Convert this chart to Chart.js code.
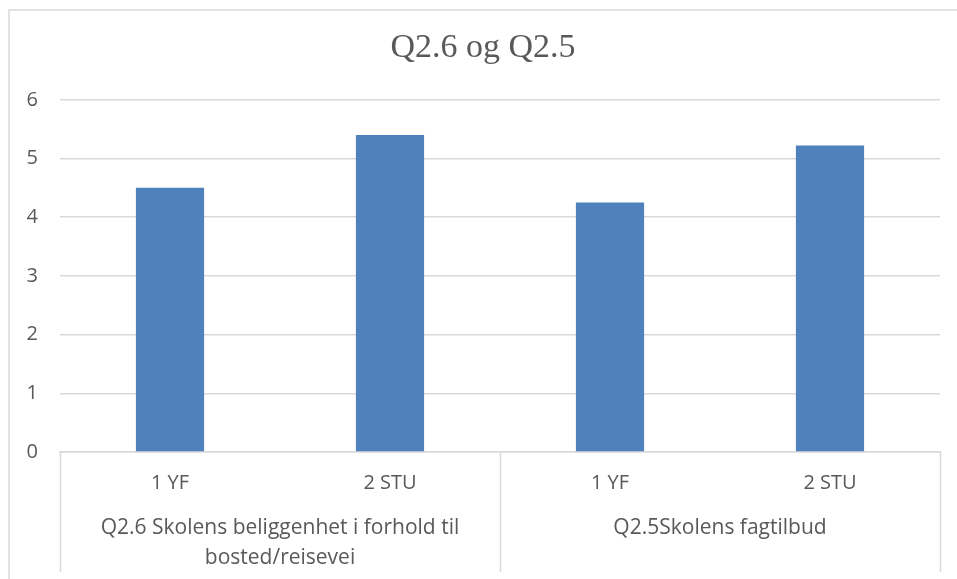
<!DOCTYPE html>
<html>
<head>
<meta charset="utf-8">
<script src="https://cdn.jsdelivr.net/npm/chart.js@4/dist/chart.umd.min.js"></script>
<style>
  html, body { margin: 0; padding: 0; background: #fff; }
  #wrap { width: 957px; height: 579px; position: relative; }
</style>
</head>
<body>
<div id="wrap"><canvas id="barChart" width="957" height="579"></canvas></div>
<script>
// data
var chartTitle = 'Q2.6 og Q2.5';
var subLabels = ['1 YF', '2 STU', '1 YF', '2 STU'];
var groupLabels = [
    ['Q2.6 Skolens beliggenhet i forhold til', 'bosted/reisevei'],
    ['Q2.5Skolens fagtilbud']
];
var groupSizes = [2, 2];
var values = [4.5, 5.4, 4.25, 5.22];
var yMax = 6;

var gridColor = '#d9d9d9';
var textColor = '#595959';
var labelFont = '"Open Sans", "Liberation Sans", sans-serif';

// frame + category box with group labels
var groupAxis = {
    id: 'groupAxis',
    beforeDraw: function (chart) {
        var ctx = chart.ctx;
        ctx.save();
        ctx.strokeStyle = gridColor;
        ctx.lineWidth = 1.5;
        ctx.beginPath();
        ctx.moveTo(9, 600);
        ctx.lineTo(9, 10);
        ctx.lineTo(990, 10);
        ctx.stroke();
        ctx.restore();
    },
    afterDraw: function (chart) {
        var ctx = chart.ctx;
        var x = chart.scales.x;
        var area = chart.chartArea;
        var half = (x.getPixelForValue(1) - x.getPixelForValue(0)) / 2;
        var boxBottom = area.bottom + 120;
        ctx.save();
        ctx.strokeStyle = gridColor;
        ctx.lineWidth = 1.5;
        // boundaries
        var idx = 0;
        var edges = [x.getPixelForValue(0) - half];
        groupSizes.forEach(function (n) {
            idx += n;
            edges.push(x.getPixelForValue(idx - 1) + half);
        });
        edges.forEach(function (px) {
            ctx.beginPath();
            ctx.moveTo(Math.round(px) + 0.5, area.bottom);
            ctx.lineTo(Math.round(px) + 0.5, boxBottom);
            ctx.stroke();
        });
        // group labels
        ctx.fillStyle = textColor;
        ctx.font = '21px ' + labelFont;
        ctx.textAlign = 'center';
        ctx.textBaseline = 'middle';
        var start = 0;
        groupSizes.forEach(function (n, g) {
            var cx = (x.getPixelForValue(start) + x.getPixelForValue(start + n - 1)) / 2;
            groupLabels[g].forEach(function (line, i) {
                ctx.fillText(line, cx, area.bottom + 76 + i * 30);
            });
            start += n;
        });
        ctx.restore();
    }
};

var ctxBar = document.getElementById('barChart').getContext('2d');
var barChart = new Chart(ctxBar, {
    type: 'bar',
    data: {
        labels: subLabels,
        datasets: [{
            data: values,
            backgroundColor: '#4f81bd',
            borderWidth: 0,
            barPercentage: 0.31,
            categoryPercentage: 1
        }]
    },
    options: {
        responsive: false,
        animation: false,
        layout: { padding: { left: 9, right: 0, top: 0, bottom: 0 } },
        plugins: {
            legend: { display: false },
            tooltip: { enabled: false },
            title: {
                display: true,
                text: chartTitle,
                color: textColor,
                font: { family: '"Liberation Serif", "DejaVu Serif", serif', size: 34, weight: 'normal' },
                padding: { top: 28, bottom: 31 }
            }
        },
        scales: {
            x: {
                grid: { display: false, drawTicks: false },
                border: { display: true, color: gridColor, width: 1.5 },
                ticks: { color: textColor, font: { family: labelFont, size: 20 }, padding: 19 },
                afterFit: function (scale) { scale.height = 127; }
            },
            y: {
                min: 0,
                max: yMax,
                grid: { color: gridColor, lineWidth: 1.5, drawTicks: false },
                border: { display: false },
                ticks: { stepSize: 1, color: textColor, font: { family: labelFont, size: 20 }, padding: 22 },
                afterFit: function (scale) { scale.width = 51; }
            },
            // empty right margin so the title centres like the original
            y2: {
                position: 'right',
                grid: { display: false, drawTicks: false },
                border: { display: false },
                ticks: { display: false },
                afterFit: function (scale) { scale.width = 17; }
            }
        }
    },
    plugins: [groupAxis]
});
</script>
</body>
</html>
